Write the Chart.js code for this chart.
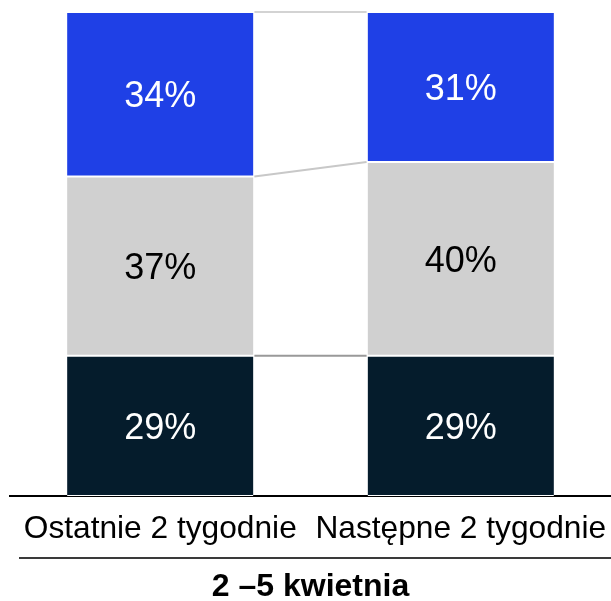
<!DOCTYPE html>
<html>
<head>
<meta charset="utf-8">
<script src="https://cdn.jsdelivr.net/npm/chart.js@4.4.1/dist/chart.umd.min.js"></script>
<style>
html,body{margin:0;padding:0;background:#fff;}
#wrap{width:611px;height:601px;}
</style>
</head>
<body>
<div id="wrap"><canvas id="c" width="611" height="601"></canvas></div>
<script>
const categories = ["Ostatnie 2 tygodnie", "Następne 2 tygodnie"];
const seriesNames = ["Dolna", "Środkowa", "Górna"];
const darkValues = [29, 29];
const grayValues = [37, 40];
const blueValues = [34, 31];
const titleText = "2 –5 kwietnia";

const FONT = "'Liberation Sans', Arial, sans-serif";
const colors = ["#051C2C", "#D0D0D0", "#1F40E6"];
const labelColors = ["#FFFFFF", "#000000", "#FFFFFF"];
const connectorColors = ["#999999", "#C8C8C8", "#D3D3D3"];

const labelPlugin = {
  id: 'segLabels',
  afterDatasetsDraw(chart) {
    const ctx = chart.ctx;
    ctx.save();
    ctx.font = "36px " + FONT;
    ctx.textAlign = 'center';
    ctx.textBaseline = 'middle';
    chart.data.datasets.forEach((ds, i) => {
      const meta = chart.getDatasetMeta(i);
      meta.data.forEach((el, j) => {
        const y = (el.y + el.base) / 2;
        ctx.fillStyle = labelColors[i];
        ctx.fillText(ds.data[j] + '%', el.x, y + 3);
      });
    });
    ctx.restore();
  }
};

const connectorPlugin = {
  id: 'connectors',
  afterDatasetsDraw(chart) {
    const ctx = chart.ctx;
    ctx.save();
    chart.data.datasets.forEach((ds, i) => {
      const meta = chart.getDatasetMeta(i);
      const a = meta.data[0], b = meta.data[1];
      ctx.strokeStyle = connectorColors[i];
      ctx.lineWidth = 2;
      ctx.beginPath();
      ctx.moveTo(a.x + a.width / 2 + 1, a.y);
      ctx.lineTo(b.x - b.width / 2 - 1, b.y);
      ctx.stroke();
    });
    ctx.restore();
  }
};

const titleLinePlugin = {
  id: 'titleLine',
  afterDraw(chart) {
    const ctx = chart.ctx;
    const y = chart.titleBlock.top + 11;
    ctx.save();
    ctx.strokeStyle = "#3A3A3A";
    ctx.lineWidth = 2;
    ctx.beginPath();
    ctx.moveTo(19, y);
    ctx.lineTo(611, y);
    ctx.stroke();
    ctx.restore();
  }
};

const valueSets = [darkValues, grayValues, blueValues];

new Chart(document.getElementById('c'), {
  type: 'bar',
  data: {
    labels: categories,
    datasets: valueSets.map((vals, i) => ({
      label: seriesNames[i],
      data: vals,
      backgroundColor: colors[i],
      borderColor: '#FFFFFF',
      borderWidth: {top: 1, bottom: 1, left: 0, right: 0},
      borderSkipped: false,
      categoryPercentage: 1,
      barPercentage: 0.62
    }))
  },
  options: {
    responsive: false,
    animation: false,
    layout: {padding: {top: 12, left: 10, right: 0, bottom: 0}},
    plugins: {
      legend: {display: false},
      tooltip: {enabled: false},
      title: {
        display: true,
        position: 'bottom',
        text: titleText,
        color: '#000000',
        font: {family: FONT, size: 32, weight: 'bold', lineHeight: 1},
        padding: {top: 24, bottom: -2}
      }
    },
    scales: {
      x: {
        stacked: true,
        grid: {display: false, drawTicks: false},
        border: {display: true, color: '#000000', width: 2},
        ticks: {color: '#000000', font: {family: FONT, size: 31.7, lineHeight: 1.2}, padding: 14, maxRotation: 0, autoSkip: false},
        afterFit(scale) {
          scale.height = 51;
          scale.paddingLeft = 0;
          scale.paddingRight = 0;
        }
      },
      y: {
        stacked: true,
        display: false,
        min: 0,
        max: 100
      }
    }
  },
  plugins: [labelPlugin, connectorPlugin, titleLinePlugin]
});
</script>
</body>
</html>
